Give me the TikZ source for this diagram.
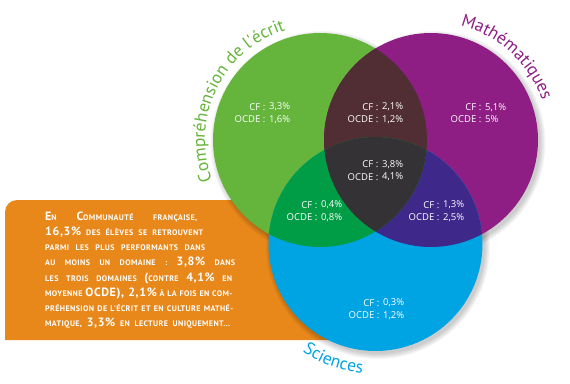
\documentclass[tikz,border=0pt]{standalone}
\usepackage{fontspec}
\setmainfont{PT Sans}
\newfontfamily\titlefont{PT Sans}
\newfontfamily\labfont{Open Sans}
\newfontfamily\bodyfont[LetterSpace=5]{PT Sans}
\usetikzlibrary{decorations.text,calc}
\definecolor{grn}{RGB}{101,180,59}
\definecolor{prp}{RGB}{142,29,132}
\definecolor{blu}{RGB}{0,164,227}
\definecolor{gp}{RGB}{80,46,52}
\definecolor{gb}{RGB}{0,157,70}
\definecolor{pb}{RGB}{62,41,139}
\definecolor{gpb}{RGB}{52,50,52}
\definecolor{org}{RGB}{232,136,26}
\newcommand\bignum[1]{{\fontsize{12}{12}\selectfont #1}}
\newcommand\vlab[5]{%
  \node[lab,anchor=east,align=right] (#1k) at (#2+1.5,#3) {CF :\\OCDE :};
  \node[lab,anchor=west,align=left] (#1v) at (#2+5,#3) {#4\\#5};
}
\tikzset{
  lab/.style={text=white,font=\labfont\fontsize{9.5}{12.6}\selectfont,inner sep=0pt},
  bodyline/.style={text=white,font=\bodyfont\bfseries\fontsize{8}{8}\selectfont,inner sep=0pt,anchor=base west},
  shad/.style={black,opacity=0.035}
}
\begin{document}
\begin{tikzpicture}[x=1pt,y=1pt]
\useasboundingbox (0,0) rectangle (570,-383);
\coordinate (G) at (320,-140);
\coordinate (P) at (431,-140);
\coordinate (B) at (375.5,-244);
% orange box
\fill[org] (5,-340) -- (5,-212) arc[start angle=180,end angle=90,radius=12] -- (340,-200) -- (340,-340) -- cycle;
% shadows
\foreach \c in {G,P,B}{
  \foreach \k in {1,...,6}{
    \fill[shad] ([shift={(2.5,-3)}]\c) circle[radius=106+\k];
  }
}
% circles
\fill[grn] (G) circle[radius=107];
\fill[prp] (P) circle[radius=107];
\fill[blu] (B) circle[radius=107];
\begin{scope}
  \clip (P) circle[radius=107];
  \fill[pb] (B) circle[radius=107];
\end{scope}
\begin{scope}
  \clip (G) circle[radius=107];
  \fill[gp] (P) circle[radius=107];
  \fill[gb] (B) circle[radius=107];
  \clip (P) circle[radius=107];
  \fill[gpb] (B) circle[radius=107];
\end{scope}
% labels
\vlab{go}{264}{-113}{3,3\%}{1,6\%}
\vlab{gp}{377}{-113}{2,1\%}{1,2\%}
\vlab{po}{480}{-113}{5,1\%}{5\%}
\vlab{gpb}{377}{-170.5}{3,8\%}{4,1\%}
\vlab{gb}{316}{-211}{0,4\%}{0,8\%}
\vlab{pb}{438}{-211}{1,3\%}{2,5\%}
\vlab{bo}{378}{-309}{0,3\%}{1,2\%}
% curved titles
\path[decorate,decoration={text along path,text align=center,
  text={|\titlefont\fontsize{17.5}{17.5}\selectfont\color{grn}|Compréhension de l'écrit}}]
  ($(G)+(214:115)$) arc[start angle=214,end angle=94,radius=115];
\path[decorate,decoration={text along path,text align=center,
  text={|\titlefont\fontsize{17.5}{17.5}\selectfont\color{prp}|Mathématiques}}]
  ($(P)+(100:118)$) arc[start angle=100,end angle=-5,radius=118];
\path[decorate,decoration={text along path,text align=center,
  text={|\titlefont\fontsize{17.5}{17.5}\selectfont\color{blu}|Sciences}}]
  ($(B)+(215:130)$) arc[start angle=215,end angle=285,radius=130];
% body text
\node[bodyline] (l1) at (45,-220.5) {\makebox[152pt][s]{\bignum{E}N \bignum{C}OMMUNAUTÉ FRANÇAISE,}};
\node[bodyline] (l2) at (45,-235.6) {\makebox[158pt][s]{\bignum{16,3\%} DES ÉLÈVES SE RETROUVENT}};
\node[bodyline] (l3) at (45,-250.8) {\makebox[160pt][s]{PARMI LES PLUS PERFORMANTS DANS}};
\node[bodyline] (l4) at (45,-265.9) {\makebox[190pt][s]{AU MOINS UN DOMAINE : \bignum{3,8\%} DANS}};
\node[bodyline] (l5) at (45,-281.1) {\makebox[187pt][s]{LES TROIS DOMAINES \bignum{(}CONTRE \bignum{4,1\%} EN}};
\node[bodyline] (l6) at (45,-296.2) {\makebox[187pt][s]{MOYENNE \bignum{OCDE), 2,1\%} À LA FOIS EN COM-}};
\node[bodyline] (l7) at (45,-311.4) {\makebox[188pt][s]{PRÉHENSION DE L'ÉCRIT ET EN CULTURE MATHÉ-}};
\node[bodyline] (l8) at (45,-326.5) {\makebox[185pt][s]{MATIQUE, \bignum{3,3\%} EN LECTURE UNIQUEMENT...}};
\end{tikzpicture}
\end{document}
